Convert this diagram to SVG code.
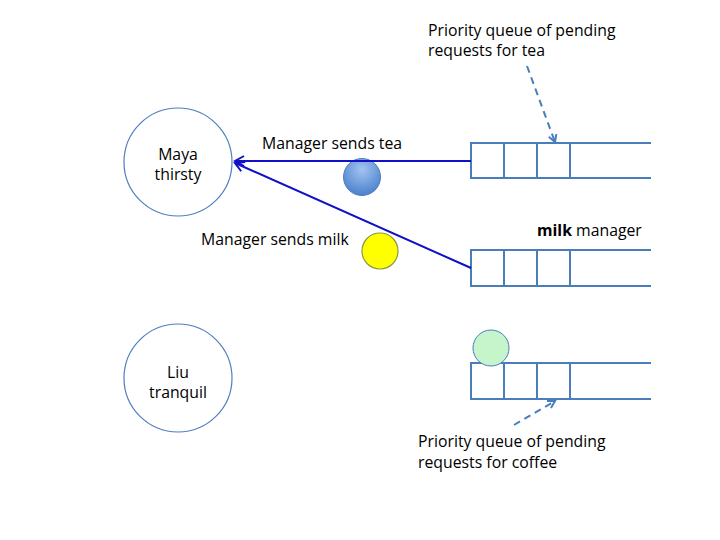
<svg xmlns="http://www.w3.org/2000/svg" width="720" height="540" viewBox="0 0 720 540">
<style>
.t{font-family:"Open Sans","Liberation Sans",sans-serif;font-size:15.8px;fill:#000}
.node{fill:#fff;stroke:#4f7fbf;stroke-width:1.2}
.q{fill:none;stroke:#4a7ebb;stroke-width:2}
.msg{stroke:#1010c8;stroke-width:2;fill:none}
.dash{stroke:#4a7ebb;stroke-width:2;stroke-dasharray:7,5;fill:none}
</style>
<defs>
<marker id="ah" markerWidth="12" markerHeight="12" refX="10" refY="6" orient="auto" markerUnits="userSpaceOnUse">
<path d="M1,1 L10,6 L1,11" fill="none" stroke="#1010c8" stroke-width="2"/>
</marker>
<marker id="dh" markerWidth="10" markerHeight="10" refX="8" refY="5" orient="auto" markerUnits="userSpaceOnUse">
<path d="M1,1 L8,5 L1,9" fill="none" stroke="#4a7ebb" stroke-width="2"/>
</marker>
<radialGradient id="gb" cx="0.5" cy="0.3" r="0.7">
<stop offset="0" stop-color="#a3c4f0"/><stop offset="1" stop-color="#4a80cc"/>
</radialGradient>
</defs>
<rect width="720" height="540" fill="#fff"/>
<g id="maya">
<circle class="node" cx="178" cy="162" r="54"/>
<text class="t" x="178" y="160" text-anchor="middle">Maya</text>
<text class="t" x="178" y="180" text-anchor="middle">thirsty</text>
</g>
<g id="liu">
<circle class="node" cx="178" cy="378" r="54"/>
<text class="t" x="178" y="378" text-anchor="middle">Liu</text>
<text class="t" x="178" y="398" text-anchor="middle">tranquil</text>
</g>
<g id="tea-queue">
<path class="q" d="M651,143 H471 V178 H651 M504,143 V178 M537,143 V178 M570,143 V178"/>
</g>
<g id="milk-queue">
<path class="q" d="M651,250 H471 V286 H651 M504,250 V286 M537,250 V286 M570,250 V286"/>
<text class="t" x="537" y="236"><tspan font-weight="bold">milk</tspan> manager</text>
</g>
<g id="coffee-queue">
<path class="q" d="M651,363 H471 V399 H651 M504,363 V399 M537,363 V399 M570,363 V399"/>
</g>
<g id="tokens">
<circle cx="362" cy="177" r="18.5" fill="url(#gb)" stroke="#4a7ebb" stroke-width="1"/>
<circle cx="380" cy="251" r="18" fill="#ffff00" stroke="#8a9a3a" stroke-width="1.2"/>
<circle cx="491" cy="348" r="18" fill="#c6f5cc" stroke="#4a7ebb" stroke-width="1"/>
</g>
<g id="connectors">
<line class="msg" x1="471" y1="161" x2="235" y2="161" marker-end="url(#ah)"/>
<line class="msg" x1="471" y1="268" x2="235" y2="163" marker-end="url(#ah)"/>
<line class="dash" x1="527" y1="66" x2="555" y2="142" marker-end="url(#dh)"/>
<line class="dash" x1="514" y1="425" x2="555" y2="401" marker-end="url(#dh)"/>
</g>
<g id="labels">
<text class="t" x="262" y="149">Manager sends tea</text>
<text class="t" x="201" y="245">Manager sends milk</text>
<text class="t" x="428" y="36">Priority queue of pending</text>
<text class="t" x="428" y="56">requests for tea</text>
<text class="t" x="418" y="447">Priority queue of pending</text>
<text class="t" x="418" y="468">requests for coffee</text>
</g>
</svg>
